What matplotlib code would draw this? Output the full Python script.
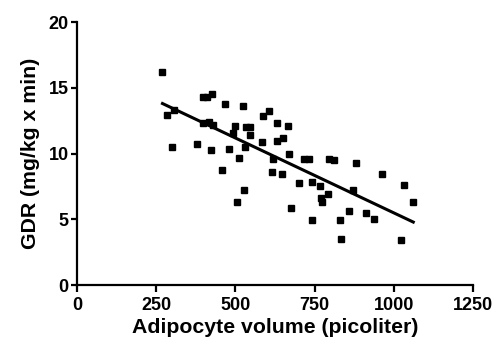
import numpy as np
from matplotlib import pyplot as plt

plt.rcParams['font.family'] = ['Liberation Sans', 'DejaVu Sans']
plt.rcParams['font.weight'] = 'bold'

volume = [270, 283, 299, 307, 380, 397, 409, 427, 397, 418, 428, 422, 458, 468,
          479, 491, 500, 511, 524, 505, 528, 529, 535, 547, 547, 584, 586, 606,
          618, 616, 630, 630, 647, 651, 667, 669, 675, 716, 731, 702, 741, 743,
          767, 771, 774, 793, 794, 810, 830, 834, 857, 870, 881, 911, 938, 961,
          1023, 1031, 1061]
gdr = [16.2, 12.9, 10.5, 13.35, 10.75, 14.3, 14.3, 14.55, 12.35, 12.4, 12.2, 10.3,
       8.75, 13.8, 10.35, 11.6, 12.1, 9.65, 13.6, 6.35, 7.2, 10.5, 12.0, 12.0,
       11.45, 10.85, 12.85, 13.25, 9.6, 8.6, 12.3, 10.95, 8.45, 11.2, 12.1, 9.95,
       5.9, 9.6, 9.6, 7.8, 7.85, 4.95, 7.5, 6.65, 6.3, 6.95, 9.6, 9.5, 4.95, 3.5,
       5.6, 7.2, 9.3, 5.45, 5.05, 8.45, 3.45, 7.65, 6.3]

xticks = [0, 250, 500, 750, 1000, 1250]
yticks = [0, 5, 10, 15, 20]


def main():
  fig = plt.figure(figsize=(4.96, 3.46), dpi=100)
  ax = fig.add_axes([0.155, 0.176, 0.799, 0.76])

  ax.plot(volume, gdr, 's', color='black', markersize=5, clip_on=False)

  k, b = np.polyfit(volume, gdr, 1)
  fx = np.array([min(volume), max(volume)])
  ax.plot(fx, k * fx + b, color='black', linewidth=2.2)

  ax.set_xlim(0, 1250)
  ax.set_ylim(0, 20)
  ax.set_xticks(xticks)
  ax.set_yticks(yticks)
  for s in ['top', 'right']:
    ax.spines[s].set_visible(False)
  for s in ['left', 'bottom']:
    ax.spines[s].set_linewidth(1.6)
  ax.tick_params(width=1.6, length=5, labelsize=13)
  ax.tick_params(axis='y', length=4, pad=2)
  ax.set_xlabel('Adipocyte volume (picoliter)', fontsize=15.3, fontweight='bold',
                labelpad=3)
  ax.set_ylabel('GDR (mg/kg x min)', fontsize=15.3, fontweight='bold', labelpad=6)

  fig.savefig('out.png', dpi=100)


if __name__ == '__main__':
  main()
